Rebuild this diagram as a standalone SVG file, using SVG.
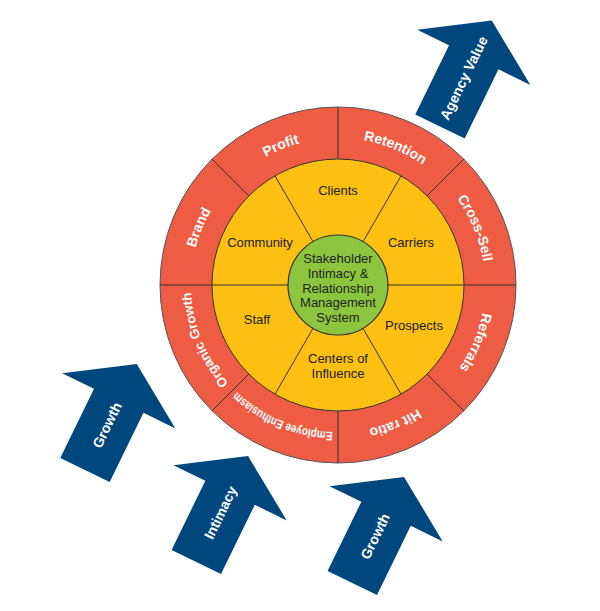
<svg xmlns="http://www.w3.org/2000/svg" width="600" height="611" viewBox="0 0 600 611">
<style>
.ring{fill:#ee5c44;stroke:#555;stroke-width:1}
.inner{fill:#fdbf12;stroke:#333;stroke-width:1}
.core{fill:#8cc63f;stroke:#333;stroke-width:1.2}
.div{stroke:#333;stroke-width:1}
.ot{font-family:"Liberation Sans",Arial,sans-serif;font-size:14px;font-weight:bold;fill:#fff}
.it{font-family:"Liberation Sans",Arial,sans-serif;font-size:13px;fill:#222;text-anchor:middle}
.arrow{fill:#00477e}
.at{font-family:"Liberation Sans",Arial,sans-serif;font-size:14px;font-weight:bold;fill:#fff;text-anchor:middle}
</style>
<defs>
<path id="rp" d="M338,138 A147,147 0 1 1 338,432 A147,147 0 1 1 338,138"/>
<path id="arr" d="M-27.5,0 L27.5,0 L27.5,-77 L63,-77 L0,-118 L-63,-77 L-27.5,-77 Z"/>
</defs>
<g id="outer-ring">
<circle class="ring" cx="338" cy="285" r="178"/>
<text class="ot"><textPath href="#rp" startOffset="866" text-anchor="middle">Profit</textPath></text>
<text class="ot"><textPath href="#rp" startOffset="58" text-anchor="middle">Retention</textPath></text>
<text class="ot"><textPath href="#rp" startOffset="173" text-anchor="middle">Cross-Sell</textPath></text>
<text class="ot"><textPath href="#rp" startOffset="289" text-anchor="middle">Referrals</textPath></text>
<text class="ot"><textPath href="#rp" startOffset="404" text-anchor="middle">Hit ratio</textPath></text>
<text class="ot" style="font-size:12.5px"><textPath href="#rp" startOffset="520" text-anchor="middle" textLength="106" lengthAdjust="spacingAndGlyphs">Employee Enthusiasm</textPath></text>
<text class="ot" style="font-size:13px"><textPath href="#rp" startOffset="635" text-anchor="middle" textLength="100" lengthAdjust="spacingAndGlyphs">Organic Growth</textPath></text>
<text class="ot"><textPath href="#rp" startOffset="750" text-anchor="middle">Brand</textPath></text>
</g>
<g id="inner-ring">
<circle class="inner" cx="338" cy="285" r="126"/>
<text class="it" x="338" y="195">Clients</text>
<text class="it" x="260" y="247">Community</text>
<text class="it" x="411" y="247">Carriers</text>
<text class="it" x="257" y="324">Staff</text>
<text class="it" x="414" y="330">Prospects</text>
<text class="it" x="338" y="363">Centers of</text>
<text class="it" x="338" y="378">Influence</text>
</g>
<g id="connectors">
<g transform="translate(338,285)">
<line class="div" x1="0" y1="-126" x2="0" y2="-178"/>
<line class="div" x1="0" y1="126" x2="0" y2="178"/>
<line class="div" x1="126" y1="0" x2="178" y2="0"/>
<line class="div" x1="-126" y1="0" x2="-178" y2="0"/>
<line class="div" x1="89.1" y1="89.1" x2="125.9" y2="125.9"/>
<line class="div" x1="-89.1" y1="89.1" x2="-125.9" y2="125.9"/>
<line class="div" x1="89.1" y1="-89.1" x2="125.9" y2="-125.9"/>
<line class="div" x1="-89.1" y1="-89.1" x2="-125.9" y2="-125.9"/>
<line class="div" x1="50" y1="0" x2="126" y2="0"/>
<line class="div" x1="-50" y1="0" x2="-126" y2="0"/>
<line class="div" x1="25" y1="43.3" x2="63" y2="109.1"/>
<line class="div" x1="-25" y1="43.3" x2="-63" y2="109.1"/>
<line class="div" x1="25" y1="-43.3" x2="63" y2="-109.1"/>
<line class="div" x1="-25" y1="-43.3" x2="-63" y2="-109.1"/>
</g>
</g>
<g id="core">
<circle class="core" cx="338" cy="285" r="50"/>
<text class="it" x="338" y="263">Stakeholder</text>
<text class="it" x="338" y="278">Intimacy &amp;</text>
<text class="it" x="338" y="293">Relationship</text>
<text class="it" x="338" y="307">Management</text>
<text class="it" x="338" y="322">System</text>
</g>
<g id="arrow-agency" transform="translate(440,126.5) rotate(26)">
<use href="#arr" class="arrow"/>
<text class="at" transform="translate(0,-54) rotate(-90)" y="5">Agency Value</text>
</g>
<g id="arrow-growth1" transform="translate(85,470) rotate(26)">
<use href="#arr" class="arrow"/>
<text class="at" transform="translate(0,-50) rotate(-90)" y="5">Growth</text>
</g>
<g id="arrow-intimacy" transform="translate(196.3,562) rotate(26)">
<use href="#arr" class="arrow"/>
<text class="at" transform="translate(0,-55) rotate(-90)" y="5">Intimacy</text>
</g>
<g id="arrow-growth2" transform="translate(352.3,583) rotate(26)">
<use href="#arr" class="arrow"/>
<text class="at" transform="translate(0,-52) rotate(-90)" y="5">Growth</text>
</g>
</svg>
